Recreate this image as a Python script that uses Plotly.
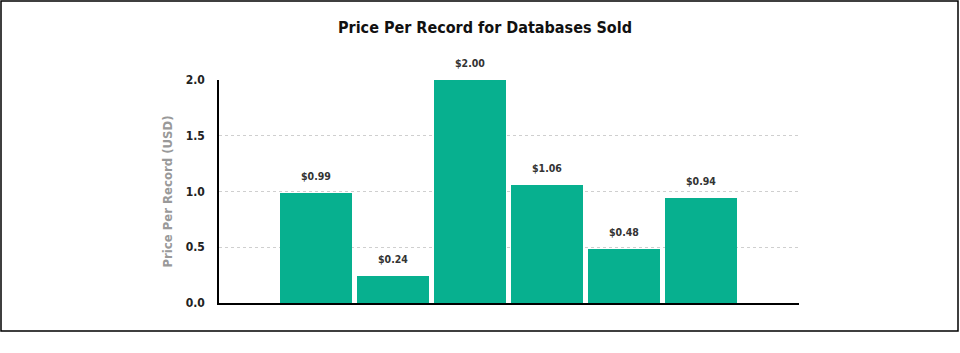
import plotly.graph_objects as go

categories = ["A", "B", "C", "D", "E", "F"]
prices = [0.99, 0.24, 2.00, 1.06, 0.48, 0.94]
price_labels = ["$0.99", "$0.24", "$2.00", "$1.06", "$0.48", "$0.94"]
y_ticks = [0.0, 0.5, 1.0, 1.5, 2.0]
y_tick_labels = ["0.0", "0.5", "1.0", "1.5", "2.0"]

W, H = 960, 353
L, R, T, B = 219, 799, 80, 303
FONT = "DejaVu Sans Condensed, Liberation Sans Narrow, sans-serif"

positions = list(range(len(categories)))

fig = go.Figure(go.Bar(
    x=positions, y=prices, width=0.93,
    marker=dict(color="#07B08F", line=dict(width=0)),
    hoverinfo="skip",
))

for p, v, t in zip(positions, prices, price_labels):
    fig.add_annotation(x=p, y=v, text=t, showarrow=False, yanchor="middle",
                       yshift=17, xanchor="center",
                       font=dict(family=FONT, size=10.5, color="#333333", weight="bold"))

def px_x(p):
    return (p - L) / (R - L)

def px_y(p):
    return (B - p) / (B - T)

fig.add_shape(type="rect", xref="paper", yref="paper",
              x0=px_x(1), x1=px_x(958), y0=px_y(331), y1=px_y(1),
              line=dict(color="black", width=1.5), layer="below")

fig.update_layout(
    width=W, height=H,
    margin=dict(l=L, r=W - R, t=T, b=H - B, pad=0),
    paper_bgcolor="white", plot_bgcolor="white",
    showlegend=False,
    bargap=0,
    title=dict(text="<b>Price Per Record for Databases Sold</b>", x=px_x(485), xref="paper",
               xanchor="center", y=1 - 27 / H, yanchor="middle",
               font=dict(family=FONT, size=16, color="#111111")),
    xaxis=dict(range=[-1.26, 6.27], showticklabels=False, showgrid=False, zeroline=False,
               showline=True, linecolor="black", linewidth=1.5, ticks=""),
    yaxis=dict(range=[0, 2.0], tickvals=y_ticks, ticktext=y_tick_labels,
               showgrid=True, gridcolor="#CFCFCF", griddash="dot", gridwidth=1,
               zeroline=False, showline=True, linecolor="black", linewidth=1.5,
               ticks="", ticklabelstandoff=10,
               tickfont=dict(family=FONT, size=12, color="#222222", weight="bold"),
               title=dict(text="Price Per Record (USD)", standoff=10,
                          font=dict(family=FONT, size=13, color="#999999", weight="bold"))),
)

fig.write_html("out.html")
